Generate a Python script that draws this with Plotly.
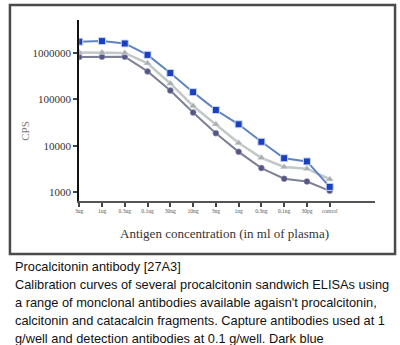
import plotly.graph_objects as go

# Antigen dilution series (x categories)
concentrations = ["3ug", "1ug", "0.3ug", "0.1ug", "30ng", "10ng", "3ng",
                  "1ng", "0.3ng", "0.1ng", "30pg", "control"]

# CPS read-outs for the three antibody pairs
cps_dark_blue = [1750000, 1800000, 1600000, 910000, 370000, 143000, 59000,
                 29000, 12200, 5400, 4600, 1300]
cps_light_gray = [1020000, 1020000, 1000000, 600000, 220000, 72000, 29000,
                  11500, 5500, 3500, 3200, 1900]
cps_purple = [820000, 830000, 830000, 400000, 155000, 52000, 18700,
              7400, 3300, 1950, 1700, 1070]

y_tick_values = [1000, 10000, 100000, 1000000]
y_tick_labels = ["1000", "10000", "100000", "1000000"]

caption_lines = [
    "Procalcitonin antibody [27A3]",
    "Calibration curves of several procalcitonin sandwich ELISAs using",
    "a range of monclonal antibodies available agaisn't procalcitonin,",
    "calcitonin and catacalcin fragments. Capture antibodies used at 1",
    "g/well and detection antibodies at 0.1 g/well. Dark blue",
]

W, H = 400, 345
idx = list(range(len(concentrations)))

fig = go.Figure()

fig.add_trace(go.Scatter(
    x=idx, y=cps_purple, mode="lines+markers",
    line=dict(color="#7d7f95", width=2),
    marker=dict(symbol="circle", size=6, color="#545784",
                line=dict(color="#a0a2c0", width=0.5)),
    showlegend=False))

fig.add_trace(go.Scatter(
    x=idx, y=cps_light_gray, mode="lines+markers",
    line=dict(color="#c2c8c8", width=2.5),
    marker=dict(symbol="triangle-up", size=7, color="#a9aeb0",
                line=dict(color="#e2e6e8", width=0.5)),
    showlegend=False))

fig.add_trace(go.Scatter(
    x=idx, y=cps_dark_blue, mode="lines+markers",
    line=dict(color="#5f82c2", width=2),
    marker=dict(symbol="square", size=7, color="#1a3fbf",
                line=dict(color="#c9d6f2", width=1)),
    showlegend=False))

px_x = lambda p: p / W
px_y = lambda p: 1 - p / H

fig.update_layout(
    width=W, height=H,
    margin=dict(l=0, r=0, t=0, b=0),
    paper_bgcolor="white", plot_bgcolor="white",
    xaxis=dict(
        domain=[px_x(76), px_x(375)],
        range=[0, 13],
        tickmode="array", tickvals=idx, ticktext=concentrations,
        tickfont=dict(family="Liberation Serif", size=5.5, color="#555"),
        ticks="outside", ticklen=4, tickwidth=1.5, tickcolor="#444",
        showline=True, linecolor="#555", linewidth=1.5,
        showgrid=False, zeroline=False, fixedrange=True,
    ),
    yaxis=dict(
        domain=[px_y(201), px_y(20)],
        type="log", range=[2.81, 6.71],
        tickmode="array", tickvals=y_tick_values, ticktext=y_tick_labels,
        tickfont=dict(family="Liberation Serif", size=11, color="#333"),
        ticks="outside", ticklen=4, tickwidth=1.5, tickcolor="#444",
        showline=True, linecolor="#111", linewidth=2,
        showgrid=False, zeroline=False, fixedrange=True,
    ),
)

# framing box around the chart panel
fig.add_shape(type="rect", xref="paper", yref="paper",
              x0=px_x(6), x1=px_x(395), y0=px_y(254), y1=px_y(5),
              line=dict(color="#4a4a4a", width=2.5), fillcolor="rgba(0,0,0,0)",
              layer="below")

# axis titles
fig.add_annotation(xref="paper", yref="paper", x=px_x(21), y=px_y(131),
                   xanchor="center", yanchor="middle",
                   text="CPS", textangle=-90, showarrow=False,
                   font=dict(family="Liberation Serif", size=11, color="#777"))
fig.add_annotation(xref="paper", yref="paper", x=px_x(223), y=px_y(233),
                   xanchor="center", yanchor="middle",
                   text="Antigen concentration (in ml of plasma)", showarrow=False,
                   font=dict(family="Liberation Serif", size=13, color="#333"))

# figure caption below the panel
for i, line in enumerate(caption_lines):
    fig.add_annotation(xref="paper", yref="paper", x=px_x(9), y=px_y(266 + 18 * i),
                       xanchor="left", yanchor="middle", text=line, showarrow=False,
                       font=dict(family="Liberation Sans", size=12.8, color="#111"))

fig.write_html("out.html")
